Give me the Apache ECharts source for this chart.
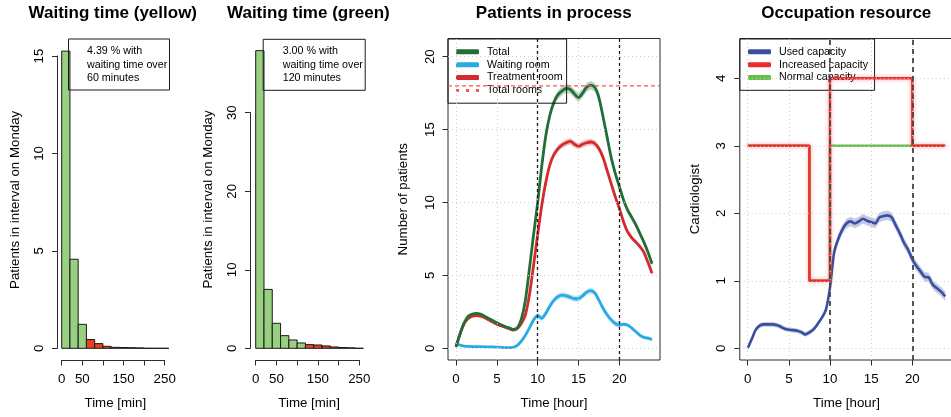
<!DOCTYPE html>
<html>
<head>
<meta charset="utf-8">
<script src="https://cdn.jsdelivr.net/npm/echarts@6/dist/echarts.min.js"></script>
<style>
html,body{margin:0;padding:0;background:#fff;}
#chart{width:951px;height:417px;}
</style>
</head>
<body>
<div id="chart"></div>
<script>
// ---------------- DATA ----------------
// Histograms (waiting times, 20-minute bins)
const binStarts = [0,20,40,60,80,100,120,140,160,180,200,220,240];
const binWidth = 20;
const yellowCounts = [15.25,4.57,1.23,0.45,0.24,0.10,0.05,0.04,0.03,0.02,0,0,0];
const greenCounts  = [37.9,7.5,3.18,1.61,1.06,0.68,0.47,0.42,0.30,0.17,0.10,0.06,0];
const yellowThreshold = 60;
const greenThreshold = 120;
const yellowNote = ['4.39 % with', 'waiting time over', '60 minutes'];
const greenNote  = ['3.00 % with', 'waiting time over', '120 minutes'];
const minTickLabels = [0, 50, 150, 250];

// Patients in process
const hours = [0,0.5,1,1.5,2,2.5,3,3.5,4,4.5,5,5.5,6,6.5,7,7.5,8,8.5,9,9.5,10,10.5,11,11.5,12,12.5,13,13.5,14,14.5,15,15.5,16,16.5,17,17.5,18,18.5,19,19.5,20,20.5,21,21.5,22,22.5,23,23.5,24];
const totalPatients = [0.1,1.0,1.75,2.2,2.35,2.4,2.35,2.2,2.05,1.9,1.75,1.62,1.5,1.4,1.3,1.4,2.0,3.3,5.5,7.8,10.0,12.5,14.6,16.0,16.9,17.4,17.65,17.83,17.75,17.45,17.2,17.5,17.9,18.05,17.9,17.2,15.9,14.5,13.1,12.0,11.1,10.2,9.5,9.0,8.5,7.9,7.3,6.6,5.8];
const waitingRoom = [0.3,0.22,0.15,0.13,0.12,0.12,0.12,0.1,0.1,0.1,0.08,0.07,0.05,0.05,0.07,0.2,0.5,0.9,1.4,1.95,2.25,2.05,2.4,2.9,3.3,3.55,3.65,3.6,3.5,3.4,3.4,3.6,3.85,3.95,3.8,3.3,2.75,2.3,1.95,1.7,1.6,1.65,1.6,1.4,1.15,0.9,0.75,0.7,0.6];
const treatmentRoom = [0.1,1.0,1.7,2.05,2.2,2.25,2.2,2.1,1.95,1.8,1.65,1.55,1.45,1.35,1.25,1.35,1.7,2.3,3.7,5.7,7.8,9.8,11.4,12.6,13.3,13.7,13.95,14.1,14.2,14.0,13.85,14.0,14.1,14.15,14.05,13.7,13.1,12.2,11.3,10.4,9.6,8.7,8.0,7.6,7.3,7.0,6.6,5.9,5.15];
const totalBand = [0.08,0.08,0.08,0.08,0.08,0.08,0.08,0.08,0.08,0.08,0.08,0.08,0.08,0.08,0.08,0.08,0.12,0.12,0.12,0.12,0.3,0.3,0.3,0.3,0.3,0.3,0.3,0.3,0.3,0.3,0.3,0.3,0.3,0.3,0.3,0.3,0.3,0.2,0.2,0.2,0.2,0.2,0.2,0.2,0.2,0.2,0.2,0.2,0.2];
const waitingBand = [0.04,0.04,0.04,0.04,0.04,0.04,0.04,0.04,0.04,0.04,0.04,0.04,0.04,0.04,0.04,0.1,0.1,0.1,0.1,0.1,0.2,0.2,0.2,0.2,0.2,0.2,0.2,0.2,0.2,0.2,0.2,0.2,0.2,0.2,0.2,0.2,0.2,0.2,0.2,0.2,0.2,0.12,0.12,0.12,0.12,0.12,0.12,0.12,0.12];
const treatmentBand = [0.08,0.08,0.08,0.08,0.08,0.08,0.08,0.08,0.08,0.08,0.08,0.08,0.08,0.08,0.08,0.08,0.12,0.12,0.12,0.12,0.22,0.22,0.22,0.22,0.22,0.22,0.22,0.22,0.22,0.22,0.22,0.22,0.22,0.22,0.22,0.22,0.22,0.16,0.16,0.16,0.16,0.16,0.16,0.16,0.16,0.16,0.16,0.16,0.16];
const totalRooms = 18;
const markHours = [10, 20];
const patientTicks = [0, 5, 10, 15, 20];
const hourTicks = [0, 5, 10, 15, 20];

// Occupation resource
const usedCapacity = [0,0.14,0.28,0.34,0.355,0.355,0.355,0.345,0.32,0.29,0.275,0.27,0.26,0.24,0.205,0.235,0.28,0.36,0.45,0.57,0.9,1.42,1.62,1.76,1.85,1.88,1.85,1.88,1.92,1.89,1.87,1.85,1.94,1.96,1.97,1.94,1.82,1.7,1.56,1.46,1.32,1.22,1.14,1.06,1.05,0.94,0.89,0.84,0.77];
const usedBand = [0.035,0.035,0.035,0.035,0.035,0.035,0.035,0.035,0.035,0.035,0.035,0.035,0.035,0.035,0.035,0.035,0.035,0.035,0.035,0.035,0.07,0.07,0.07,0.07,0.07,0.07,0.07,0.07,0.07,0.07,0.07,0.07,0.07,0.07,0.07,0.07,0.07,0.07,0.07,0.07,0.07,0.07,0.07,0.07,0.07,0.07,0.07,0.07,0.07];
const capacityHours = [0, 7.5, 10, 20, 24];
const increasedCapacity = [3, 1, 4, 3, 3];
const normalCapacity = [3, 1, 3, 3, 3];
const cardioTicks = [0, 1, 2, 3, 4];

// ---------------- STYLE ----------------
const FONT = '"Liberation Sans", Arial, Helvetica, sans-serif';
const axisFont = {fontFamily: FONT, fontSize: 13.3, color: '#000'};
const AX = '#2b2b2b';
const C = {
  histGreen: '#98cf80', histRed: '#e8411e',
  total: '#226e37', waiting: '#2aaae2', treat: '#d42a2c', rooms: '#f25858',
  used: '#3a4f9f', inc: '#ee2b2b', norm: '#6abf4b'
};

function frameX(g, min, max, name, gap) {
  return {type: 'value', gridIndex: g, min, max, name, nameLocation: 'middle', nameGap: gap,
    nameTextStyle: axisFont, axisLine: {show: false, onZero: false}, axisTick: {show: false},
    axisLabel: {show: false}, splitLine: {show: false}};
}
function frameY(g, min, max, name, gap) {
  return {type: 'value', gridIndex: g, min, max, name, nameLocation: 'middle', nameGap: gap, nameRotate: 90,
    nameTextStyle: axisFont, axisLine: {show: false, onZero: false}, axisTick: {show: false},
    axisLabel: {show: false}, splitLine: {show: false}};
}
function tickX(g, max, interval, showLine, shown) {
  return {type: 'value', gridIndex: g, min: 0, max, interval, offset: 11.7,
    axisLine: {show: showLine, onZero: false, lineStyle: {color: AX, width: 1}},
    axisTick: {show: true, length: 5.5, lineStyle: {color: AX, width: 1}},
    axisLabel: Object.assign({margin: 13, formatter: v => (shown.indexOf(v) >= 0 ? String(v) : '')}, axisFont),
    splitLine: {show: false}};
}
function tickY(g, max, interval, offset, showLine, shown) {
  return {type: 'value', gridIndex: g, min: 0, max, interval, offset,
    axisLine: {show: showLine, onZero: false, lineStyle: {color: AX, width: 1}},
    axisTick: {show: true, length: 5.5, lineStyle: {color: AX, width: 1}},
    axisLabel: Object.assign({margin: 11.5, rotate: 90, formatter: v => (shown.indexOf(v) >= 0 ? String(v) : '')}, axisFont),
    splitLine: {show: false}};
}

function histSeries(xi, yi, counts, threshold) {
  return {
    type: 'custom', xAxisIndex: xi, yAxisIndex: yi, clip: false, silent: true, z: 3,
    encode: {x: [0, 1], y: 2},
    data: binStarts.map((s, i) => [s, s + binWidth, counts[i]]),
    renderItem(params, api) {
      const a = api.coord([api.value(0), api.value(2)]);
      const b = api.coord([api.value(1), 0]);
      return {type: 'rect', shape: {x: a[0], y: a[1], width: b[0] - a[0], height: b[1] - a[1]},
        style: {fill: api.value(0) >= threshold ? C.histRed : C.histGreen, stroke: '#1a1a1a', lineWidth: 1}};
    }
  };
}
function bandSeries(xi, yi, xs, mean, half, fill) {
  return {
    type: 'custom', xAxisIndex: xi, yAxisIndex: yi, silent: true, z: 2,
    data: [[xs[0], mean[0]]],
    renderItem(params, api) {
      const up = xs.map((h, i) => api.coord([h, mean[i] + half[i]]));
      const lo = xs.map((h, i) => api.coord([h, mean[i] - half[i]])).reverse();
      return {type: 'polygon', shape: {points: up.concat(lo)}, style: {fill}};
    }
  };
}
function curve(name, xi, yi, xs, ys, color, width) {
  return {type: 'line', name, xAxisIndex: xi, yAxisIndex: yi, data: xs.map((h, i) => [h, ys[i]]),
    showSymbol: false, symbol: 'none', smooth: 0.25, silent: true, z: 3,
    itemStyle: {color}, lineStyle: {color, width}};
}
function gridLines(xi, yi, xv, yv) {
  return {type: 'line', xAxisIndex: xi, yAxisIndex: yi, data: [], silent: true, z: 1,
    markLine: {silent: true, symbol: ['none', 'none'], label: {show: false}, animation: false,
      lineStyle: {color: '#cdcdcd', type: [1, 3], width: 1},
      emphasis: {disabled: true},
      data: xv.map(v => ({xAxis: v})).concat(yv.map(v => ({yAxis: v})))}};
}
function dashedV(xi, yi, color, width, dash) {
  return {type: 'line', xAxisIndex: xi, yAxisIndex: yi, data: [], silent: true, z: 6,
    markLine: {silent: true, symbol: ['none', 'none'], label: {show: false}, animation: false,
      lineStyle: {color, type: dash, width}, emphasis: {disabled: true},
      data: markHours.map(v => ({xAxis: v}))}};
}
function titleText(x, text) {
  return {type: 'text', x, y: 13, silent: true,
    style: {text, fontFamily: FONT, fontSize: 17, fontWeight: 'bold', fill: '#000', align: 'center', verticalAlign: 'middle'}};
}
function noteBox(left, top, lines, pad) {
  return {text: lines.join('\n'), left, top, padding: pad, borderColor: '#1a1a1a', borderWidth: 1,
    backgroundColor: 'rgba(255,255,255,0)',
    textStyle: {fontFamily: FONT, fontSize: 10.7, fontWeight: 'normal', color: '#000', lineHeight: 13.5}};
}
function legendBox(left, top, pad, items) {
  return {show: true, orient: 'vertical', left, top, padding: pad, itemGap: 0, itemWidth: 23, itemHeight: 5,
    borderColor: '#1a1a1a', borderWidth: 1, backgroundColor: 'rgba(255,255,255,0)', selectedMode: false,
    formatter: ' {name}',
    textStyle: {fontFamily: FONT, fontSize: 10.7, color: '#000', lineHeight: 12.9},
    itemStyle: {borderWidth: 0},
    data: items};
}

const gridBase = {outerBoundsMode: 'none', containLabel: false};
const option = {
  animation: false,
  backgroundColor: '#fff',
  title: [
    noteBox(68, 39, yellowNote, [5.5, 3, 5.5, 19]),
    noteBox(263.3, 39.3, greenNote, [5.5, 2.5, 5.5, 19.4])
  ],
  legend: [
    legendBox(448, 39, [6.3, 4, 6.3, 8], [
      {name: 'Total', icon: 'roundRect', itemStyle: {color: C.total}},
      {name: 'Waiting room', icon: 'roundRect', itemStyle: {color: C.waiting}},
      {name: 'Treatment room', icon: 'roundRect', itemStyle: {color: C.treat}},
      {name: 'Total rooms', icon: 'path://M0,0h3v3h-3zM10,0h3v3h-3zM20,0h3v3h-3z', itemStyle: {color: C.rooms}}
    ]),
    legendBox(739.8, 39, [6.3, 6.5, 6.3, 8.2], [
      {name: 'Used capacity', icon: 'roundRect', itemStyle: {color: C.used}},
      {name: 'Increased capacity', icon: 'roundRect', itemStyle: {color: C.inc}},
      {name: 'Normal capacity', icon: 'roundRect', itemStyle: {color: C.norm}}
    ])
  ],
  graphic: [
    titleText(112.8, 'Waiting time (yellow)'),
    titleText(308.4, 'Waiting time (green)'),
    titleText(553.8, 'Patients in process'),
    titleText(846.3, 'Occupation resource')
  ],
  grid: [
    Object.assign({left: 57.5, top: 39.5, width: 115.6, height: 320.7}, gridBase),
    Object.assign({left: 61.7, top: 56, width: 103, height: 292.3}, gridBase),
    Object.assign({left: 250.5, top: 38.7, width: 117.2, height: 321.5}, gridBase),
    Object.assign({left: 255.7, top: 112.7, width: 103.6, height: 235.6}, gridBase),
    Object.assign({left: 448, top: 38.5, width: 212, height: 321.5, show: true, borderColor: AX, borderWidth: 1, backgroundColor: 'rgba(0,0,0,0)'}, gridBase),
    Object.assign({left: 456, top: 56.7, width: 163.3, height: 291.6}, gridBase),
    Object.assign({left: 739.8, top: 38.5, width: 213.3, height: 321.5, show: true, borderColor: AX, borderWidth: 1, backgroundColor: 'rgba(0,0,0,0)'}, gridBase),
    Object.assign({left: 747.7, top: 78.3, width: 164.6, height: 270}, gridBase)
  ],
  xAxis: [
    frameX(0, 0, 1, 'Time [min]', 36.5),
    tickX(1, 250, 50, true, minTickLabels),
    frameX(2, 0, 1, 'Time [min]', 36.5),
    tickX(3, 250, 50, true, minTickLabels),
    frameX(4, -0.98, 24.98, 'Time [hour]', 36.5),
    tickX(5, 20, 5, false, hourTicks),
    frameX(6, -0.96, 24.96, 'Time [hour]', 36.5),
    tickX(7, 20, 5, false, hourTicks)
  ],
  yAxis: [
    frameY(0, 0, 1, 'Patients in interval on Monday', 36),
    tickY(1, 15, 5, 4.2, true, [0, 5, 10, 15]),
    frameY(2, 0, 1, 'Patients in interval on Monday', 35.5),
    tickY(3, 30, 10, 5.2, true, [0, 10, 20, 30]),
    frameY(4, -0.802, 21.25, 'Number of patients', 38),
    tickY(5, 20, 5, 8, false, patientTicks),
    frameY(6, -0.173, 4.59, 'Cardiologist', 38),
    tickY(7, 4, 1, 7.9, false, cardioTicks)
  ],
  series: [
    histSeries(1, 1, yellowCounts, yellowThreshold),
    histSeries(3, 3, greenCounts, greenThreshold),

    gridLines(4, 4, hourTicks, patientTicks),
    bandSeries(4, 4, hours, totalPatients, totalBand, 'rgba(34,110,55,0.3)'),
    bandSeries(4, 4, hours, waitingRoom, waitingBand, 'rgba(42,170,226,0.3)'),
    bandSeries(4, 4, hours, treatmentRoom, treatmentBand, 'rgba(212,42,44,0.3)'),
    curve('Treatment room', 4, 4, hours, treatmentRoom, C.treat, 2.8),
    curve('Waiting room', 4, 4, hours, waitingRoom, C.waiting, 2.8),
    curve('Total', 4, 4, hours, totalPatients, C.total, 2.8),
    {type: 'line', name: 'Total rooms', xAxisIndex: 4, yAxisIndex: 4, silent: true, z: 6,
      data: [[-0.98, totalRooms], [24.98, totalRooms]], showSymbol: false, symbol: 'none',
      itemStyle: {color: C.rooms}, lineStyle: {color: C.rooms, width: 1.2, type: [4, 3]}},
    dashedV(4, 4, '#1a1a1a', 1.3, [3, 3]),

    gridLines(6, 6, hourTicks, cardioTicks),
    bandSeries(6, 6, hours, usedCapacity, usedBand, 'rgba(58,79,159,0.3)'),
    curve('Used capacity', 6, 6, hours, usedCapacity, C.used, 2.6),
    {type: 'line', name: 'Normal capacity', xAxisIndex: 6, yAxisIndex: 6, silent: true, z: 4, step: 'end',
      data: capacityHours.map((h, i) => [h, normalCapacity[i]]), showSymbol: false, symbol: 'none',
      itemStyle: {color: C.norm}, lineStyle: {color: C.norm, width: 2.6}},
    {type: 'line', name: 'Increased capacity', xAxisIndex: 6, yAxisIndex: 6, silent: true, z: 4, step: 'end',
      data: capacityHours.map((h, i) => [h, increasedCapacity[i]]), showSymbol: false, symbol: 'none',
      itemStyle: {color: C.inc},
      lineStyle: {color: C.inc, width: 2.4, shadowColor: 'rgba(238,43,43,0.45)', shadowBlur: 4}},
    dashedV(6, 6, '#454545', 1.8, [5, 4])
  ]
};

const chart = echarts.init(document.getElementById('chart'), null, {renderer: 'canvas'});
chart.setOption(option);
</script>
</body>
</html>
